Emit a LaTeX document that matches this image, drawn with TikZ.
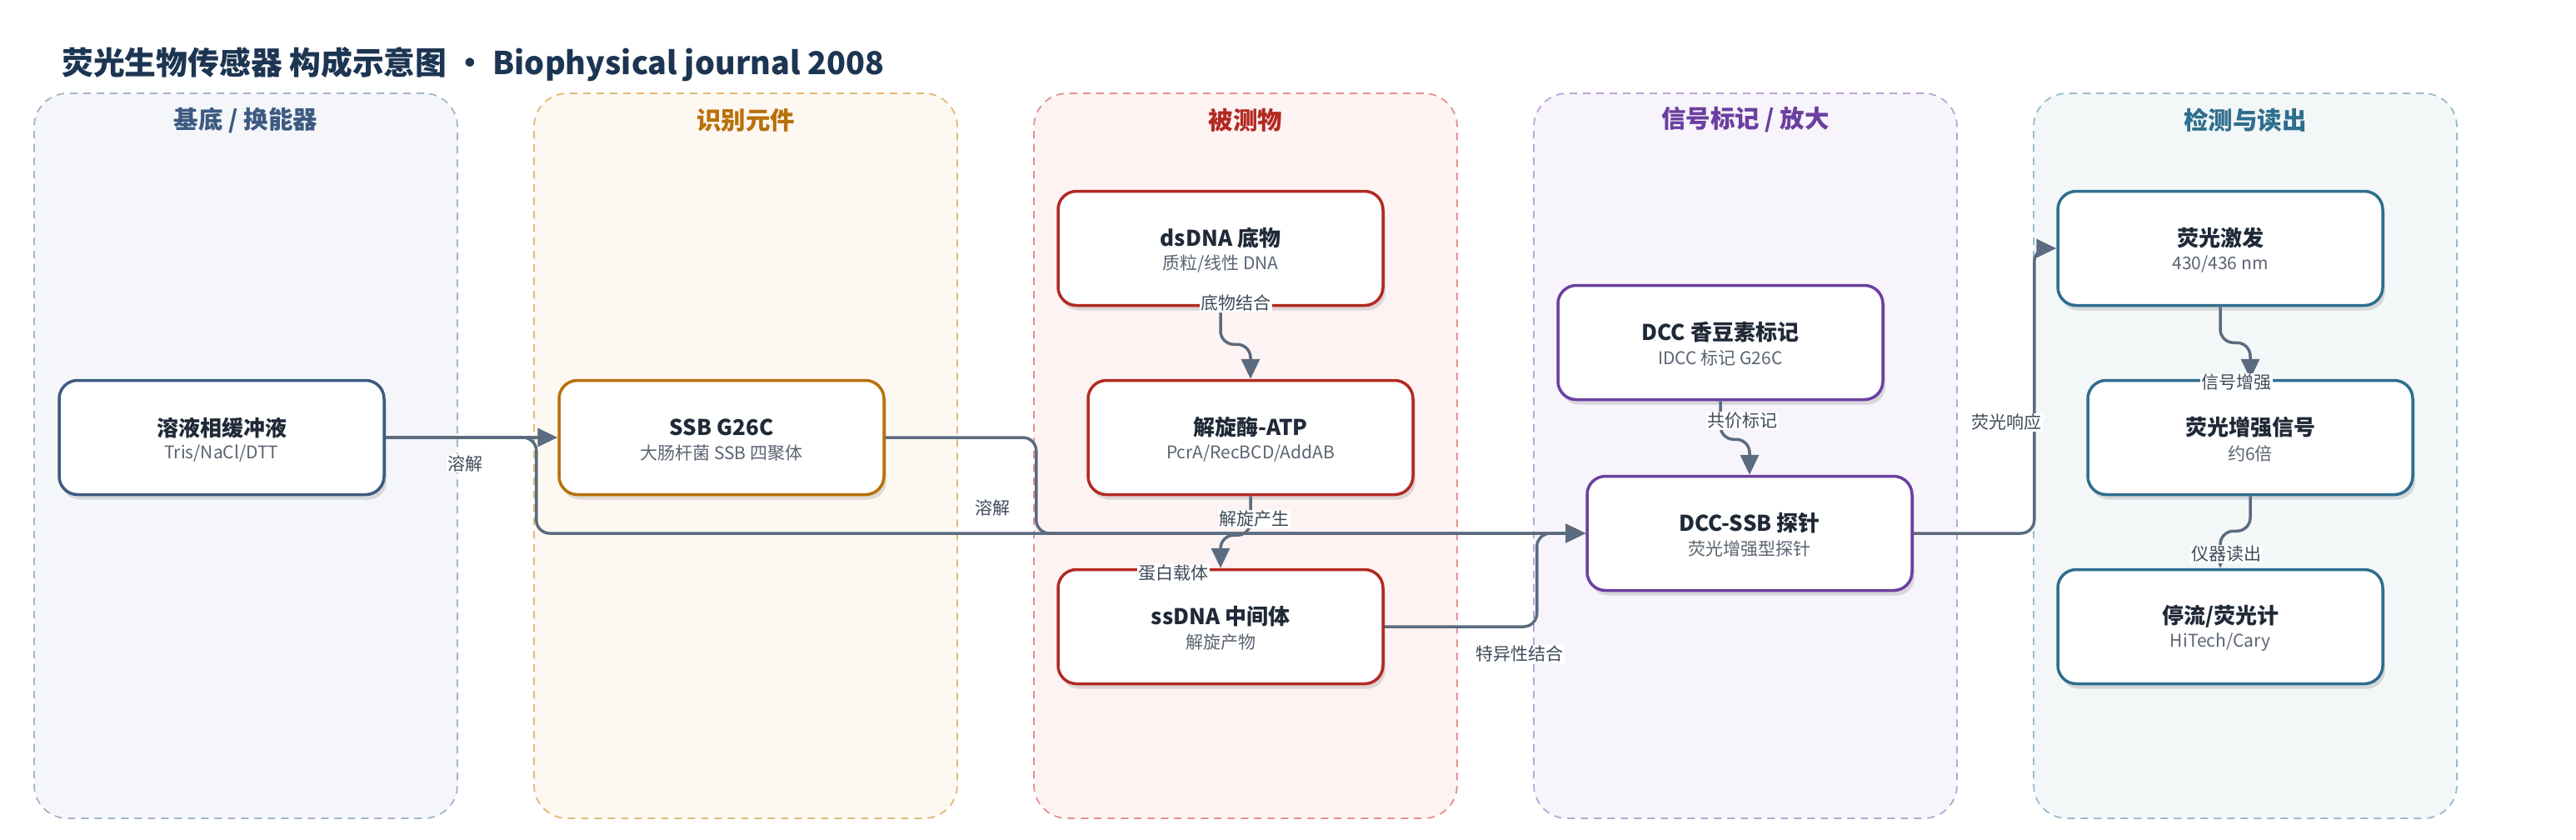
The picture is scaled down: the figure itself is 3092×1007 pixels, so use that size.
\documentclass[tikz,border=0pt]{standalone}
\usepackage{fontspec}
\setmainfont{Noto Sans CJK SC}
\usetikzlibrary{arrows.meta,shadows,calc}
\definecolor{headc}{HTML}{1C3552}
\definecolor{titlec}{HTML}{1F2937}
\definecolor{subc}{HTML}{5B6472}
\definecolor{connc}{HTML}{5B6B80}
\definecolor{labc}{HTML}{3F4B5B}
\definecolor{laneAfill}{HTML}{F4F6FA}\definecolor{laneAdraw}{HTML}{A5B4C8}\definecolor{laneAtxt}{HTML}{3D5A80}
\definecolor{laneBfill}{HTML}{FDF8F1}\definecolor{laneBdraw}{HTML}{E2B878}\definecolor{laneBtxt}{HTML}{B8700A}
\definecolor{laneCfill}{HTML}{FDF3F2}\definecolor{laneCdraw}{HTML}{E39090}\definecolor{laneCtxt}{HTML}{B22A22}
\definecolor{laneDfill}{HTML}{F7F4FB}\definecolor{laneDdraw}{HTML}{BBA3D9}\definecolor{laneDtxt}{HTML}{6B3FA0}
\definecolor{laneEfill}{HTML}{F3F7F8}\definecolor{laneEdraw}{HTML}{97BCCB}\definecolor{laneEtxt}{HTML}{2E6E8E}
\definecolor{boxA}{HTML}{3D5A80}
\definecolor{boxB}{HTML}{B8700A}
\definecolor{boxC}{HTML}{B22A22}
\definecolor{boxD}{HTML}{6B3FA0}
\definecolor{boxE}{HTML}{2E6E8E}
\newcommand\mkbox[6]{%
  \node[box, draw=#4] (#1) at (#2,#3) {};
  \node[ttl] (#1t) at ([yshift=12pt]#1.center) {#5};
  \node[sub] (#1s) at ([yshift=-19pt]#1.center) {#6};
}
\begin{document}
\begin{tikzpicture}[x=1pt,y=-1pt,
  lane/.style={draw, dash pattern=on 9pt off 7pt, line width=1.8pt, rounded corners=40pt,
    minimum width=508pt, minimum height=870pt, inner sep=0pt},
  lanetitle/.style={font=\fontsize{29.5}{33}\selectfont\bfseries},
  box/.style={line width=3.5pt, rounded corners=22pt, fill=white, minimum width=390pt,
    minimum height=137pt, inner sep=0pt,
    drop shadow={shadow xshift=3pt, shadow yshift=-6pt, fill=black, opacity=0.12}},
  ttl/.style={font=\fontsize{26}{30}\selectfont\bfseries, text=titlec, inner sep=0pt},
  sub/.style={font=\fontsize{21}{25}\selectfont, text=subc, inner sep=0pt},
  conn/.style={draw=connc, line width=3.5pt, rounded corners=16pt,
    -{Triangle[length=24pt,width=22pt]}},
  elabel/.style={fill=white, text=labc, font=\fontsize{21}{25}\selectfont, inner sep=1.5pt}
]
\useasboundingbox (0,0) rectangle (3092,1007);
\fill[white] (0,0) rectangle (3092,1007);

% title
\node[anchor=west, font=\fontsize{37.8}{42}\selectfont\bfseries, text=headc, inner sep=0pt] (title) at (74,77)
  {荧光生物传感器 构成示意图 • Biophysical journal 2008};

% lanes
\node[lane, fill=laneAfill, draw=laneAdraw] (lane1) at (295,547) {};
\node[lane, fill=laneBfill, draw=laneBdraw] (lane2) at (895,547) {};
\node[lane, fill=laneCfill, draw=laneCdraw] (lane3) at (1495,547) {};
\node[lane, fill=laneDfill, draw=laneDdraw] (lane4) at (2095,547) {};
\node[lane, fill=laneEfill, draw=laneEdraw] (lane5) at (2695,547) {};
\node[lanetitle, text=laneAtxt] (lt1) at (295,144) {基底 / 换能器};
\node[lanetitle, text=laneBtxt] (lt2) at (895,144) {识别元件};
\node[lanetitle, text=laneCtxt] (lt3) at (1495,144) {被测物};
\node[lanetitle, text=laneDtxt] (lt4) at (2095,144) {信号标记 / 放大};
\node[lanetitle, text=laneEtxt] (lt5) at (2695,144) {检测与读出};

% boxes
\mkbox{buf}{266}{525}{boxA}{溶液相缓冲液}{Tris/NaCl/DTT}
\mkbox{ssb}{866}{525}{boxB}{SSB G26C}{大肠杆菌 SSB 四聚体}
\mkbox{ds}{1465}{298}{boxC}{dsDNA 底物}{质粒/线性 DNA}
\mkbox{hel}{1501}{525}{boxC}{解旋酶-ATP}{PcrA/RecBCD/AddAB}
\mkbox{ss}{1465}{752}{boxC}{ssDNA 中间体}{解旋产物}
\mkbox{dcc}{2065}{411}{boxD}{DCC 香豆素标记}{IDCC 标记 G26C}
\mkbox{probe}{2100}{640}{boxD}{DCC-SSB 探针}{荧光增强型探针}
\mkbox{exc}{2665}{298}{boxE}{荧光激发}{430/436 nm}
\mkbox{enh}{2701}{525}{boxE}{荧光增强信号}{约6倍}
\mkbox{met}{2665}{752}{boxE}{停流/荧光计}{HiTech/Cary}

% connectors
\draw[conn] (buf.east) -- (ssb.west);
\draw[conn] (buf.east) -- ++(181,0) |- (probe.west);
\draw[conn] (ssb.east) -- ++(181,0) |- (probe.west);
\draw[conn] (ss.east) -- ++(183,0) |- (probe.west);
\draw[conn] (ds.south) -- ++(0,45) -| (hel.north);
\draw[conn] (hel.south) -- ++(0,47) -| (ss.north);
\draw[conn] (dcc.south) -- ++(0,46) -| (probe.north);
\draw[conn] (probe.east) -- ++(145,0) |- (exc.west);
\draw[conn] (exc.south) -- ++(0,43) -| (enh.north);
\draw[conn] (enh.south) -- ++(0,42) -| (met.north);

% labels
\node[elabel] (l1) at (558,556) {溶解};
\node[elabel] (l2) at (1191,609) {溶解};
\node[elabel] (l3) at (1483,364) {底物结合};
\node[elabel] (l4) at (1505,623) {解旋产生};
\node[elabel] (l5) at (1408,688) {蛋白载体};
\node[elabel] (l6) at (1824,785) {特异性结合};
\node[elabel] (l7) at (2091,505) {共价标记};
\node[elabel] (l8) at (2408,507) {荧光响应};
\node[elabel] (l9) at (2684,459) {信号增强};
\node[elabel] (l10) at (2672,665) {仪器读出};
\end{tikzpicture}
\end{document}
